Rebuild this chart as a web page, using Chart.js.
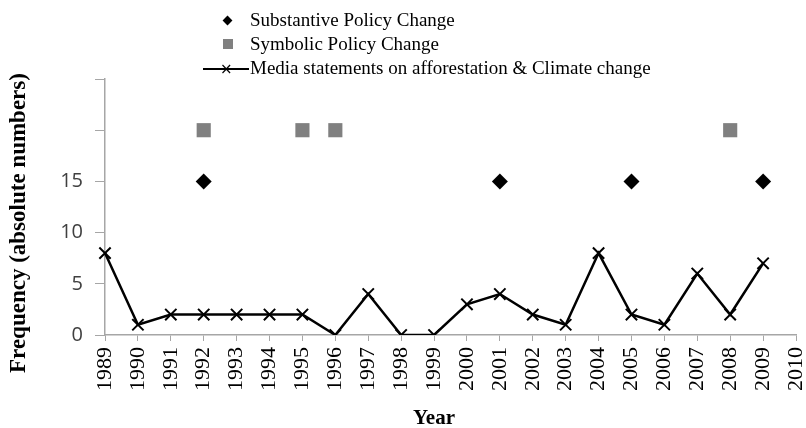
<!DOCTYPE html>
<html>
<head>
<meta charset="utf-8">
<script src="https://cdn.jsdelivr.net/npm/chart.js@4.4.1/dist/chart.umd.min.js"></script>
<style>
  body { margin: 0; background: #fff; }
  #wrap { position: relative; width: 806px; height: 428px; }
  #legenda { position: absolute; left: 202px; top: 8px; font-family: "Liberation Serif", serif; font-size: 19px; color: #000; }
  .item { display: flex; align-items: center; height: 24px; }
  .marca { width: 48px; height: 24px; position: relative; }
  .diamante { position: absolute; left: 22px; top: 9px; width: 7px; height: 7px; background: #000; transform: rotate(45deg); }
  .quadrado { position: absolute; left: 21px; top: 7px; width: 10px; height: 10px; background: #808080; }
  .linha { position: absolute; left: 1px; top: 12px; width: 46px; height: 2px; background: #000; }
  .xis { position: absolute; left: 18px; top: 5px; font-size: 15px; line-height: 16px; font-family: "DejaVu Sans", sans-serif; }
</style>
</head>
<body>
<div id="wrap">
  <canvas id="grafico" width="806" height="428"></canvas>
  <div id="legenda">
    <div class="item"><div class="marca"><div class="diamante"></div></div><span>Substantive Policy Change</span></div>
    <div class="item"><div class="marca"><div class="quadrado"></div></div><span>Symbolic Policy Change</span></div>
    <div class="item"><div class="marca"><div class="linha"></div><div class="xis">×</div></div><span>Media statements on afforestation &amp; Climate change</span></div>
  </div>
</div>
<script>
// dados do grafico
var anos = ['1989','1990','1991','1992','1993','1994','1995','1996','1997','1998','1999',
            '2000','2001','2002','2003','2004','2005','2006','2007','2008','2009','2010'];
var declaracoesMidia = [8, 1, 2, 2, 2, 2, 2, 0, 4, 0, 0, 3, 4, 2, 1, 8, 2, 1, 6, 2, 7, null];
var anosMudancaSubstantiva = ['1992', '2001', '2005', '2009'];
var nivelSubstantiva = [15, 15, 15, 15];
var anosMudancaSimbolica = ['1992', '1995', '1996', '2008'];
var nivelSimbolica = [20, 20, 20, 20];
var ticksY = [0, 5, 10, 15];

// montando os pontos dos marcadores
var pontosSubstantiva = [];
for (var i = 0; i < anosMudancaSubstantiva.length; i++) {
  pontosSubstantiva.push({ x: anosMudancaSubstantiva[i], y: nivelSubstantiva[i] });
}
var pontosSimbolica = [];
for (var j = 0; j < anosMudancaSimbolica.length; j++) {
  pontosSimbolica.push({ x: anosMudancaSimbolica[j], y: nivelSimbolica[j] });
}

var cinzaEixo = '#a6a6a6';

// titulos dos eixos desenhados a mao (posicao igual ao original)
const titulosEixos = {
  id: 'titulosEixos',
  afterDraw: function (chart) {
    const ctx = chart.ctx;
    ctx.save();
    ctx.fillStyle = '#000';
    ctx.textAlign = 'center';
    ctx.textBaseline = 'middle';
    ctx.font = 'bold 23px "Liberation Serif"';
    ctx.translate(19, 223);
    ctx.rotate(-Math.PI / 2);
    ctx.fillText('Frequency (absolute numbers)', 0, 0);
    ctx.restore();

    ctx.save();
    ctx.fillStyle = '#000';
    ctx.textAlign = 'center';
    ctx.textBaseline = 'alphabetic';
    ctx.font = 'bold 21px "Liberation Serif"';
    ctx.fillText('Year', 434, 424);
    ctx.restore();
  }
};

const config = {
  type: 'line',
  data: {
    labels: anos,
    datasets: [
      {
        label: 'Substantive Policy Change',
        data: pontosSubstantiva,
        showLine: false,
        pointStyle: 'rectRot',
        pointRadius: 8,
        backgroundColor: '#000',
        borderColor: '#000',
        borderWidth: 0
      },
      {
        label: 'Symbolic Policy Change',
        data: pontosSimbolica,
        showLine: false,
        pointStyle: 'rect',
        pointRadius: 10,
        backgroundColor: '#808080',
        borderColor: '#808080',
        borderWidth: 0
      },
      {
        label: 'Media statements on afforestation & Climate change',
        data: declaracoesMidia,
        borderColor: '#000',
        backgroundColor: '#000',
        borderWidth: 2.5,
        tension: 0,
        fill: false,
        pointStyle: 'crossRot',
        pointRadius: 8,
        pointBorderWidth: 2
      }
    ]
  },
  options: {
    responsive: false,
    animation: false,
    layout: { padding: { top: 79, right: 6, left: 0, bottom: 0 } },
    plugins: {
      legend: { display: false },
      tooltip: { enabled: false }
    },
    scales: {
      x: {
        type: 'category',
        offset: false,
        grid: { display: true, drawOnChartArea: false, drawTicks: true, tickLength: 6, color: cinzaEixo, offset: false },
        border: { color: cinzaEixo, width: 1.5 },
        ticks: {
          autoSkip: false,
          minRotation: 90,
          maxRotation: 90,
          color: '#000',
          padding: 6,
          font: { family: 'Liberation Serif', size: 22 }
        },
        afterFit: function (escala) {
          escala.height = 93;
          escala.paddingLeft = 0;
          escala.paddingRight = 0;
        }
      },
      y: {
        min: 0,
        max: 25,
        ticks: {
          stepSize: 5,
          color: '#404040',
          padding: 12,
          font: { family: 'Open Sans', size: 20 },
          callback: function (valor) { return ticksY.indexOf(valor) >= 0 ? valor : ''; }
        },
        grid: { display: true, drawOnChartArea: false, drawTicks: true, tickLength: 10, color: cinzaEixo },
        border: { color: cinzaEixo, width: 1.5 },
        afterFit: function (escala) { escala.width = 105; }
      }
    }
  },
  plugins: [titulosEixos]
};

let graficoMidia = new Chart(document.getElementById('grafico'), config);
</script>
</body>
</html>
